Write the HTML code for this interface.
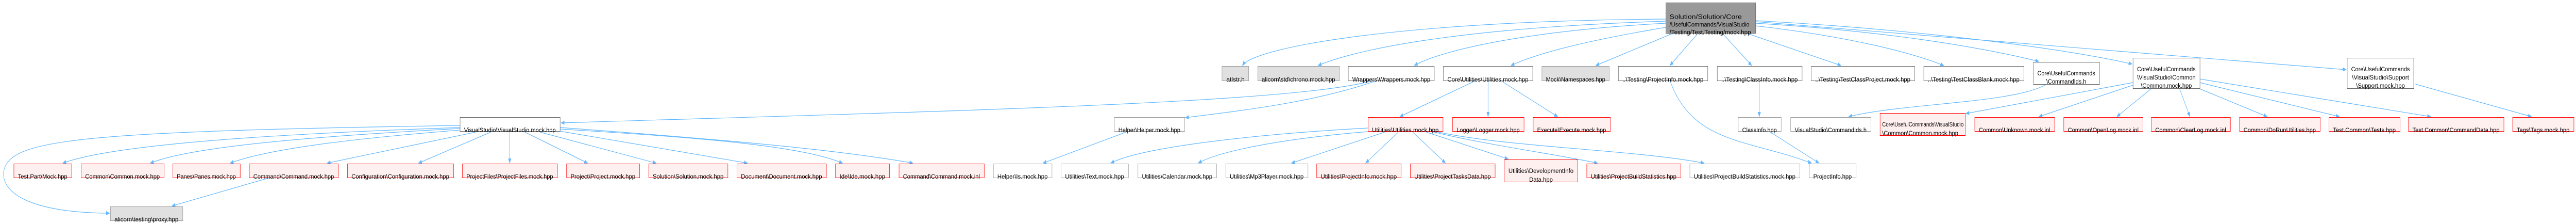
<!DOCTYPE html>
<html><head><meta charset="utf-8"><style>
html,body{margin:0;padding:0;background:#fff;width:100%;height:100%;overflow:hidden;}
svg{display:block;width:100vw;height:100vh;}
text{font-family:"Liberation Sans","DejaVu Sans",sans-serif;font-size:12px;fill:#000;}
.e{fill:none;stroke:#63B8FF;stroke-width:1.2;marker-end:url(#a);}
.w{fill:#fff;stroke:#666;}
.wg{fill:#fff;stroke:#999;}
.g{fill:#e0e0e0;stroke:#999;}
.r{fill:#fff0f0;stroke:#f00;}
.m{fill:#999;stroke:#666;}
</style></head><body>
<svg viewBox="0 0 6772 432" preserveAspectRatio="none" xmlns="http://www.w3.org/2000/svg" overflow="hidden">
<defs><marker id="a" markerWidth="10" markerHeight="8" refX="9" refY="4" orient="auto" markerUnits="userSpaceOnUse"><path d="M0,0 L10,4 L0,8 z" fill="#63B8FF"/></marker></defs>

<path class="e" d="M4379,37 C3700,40 3300,90 3266,127"/>
<path class="e" d="M4379,41 C3800,55 3550,100 3465,127"/>
<path class="e" d="M4379,45 C4000,60 3780,100 3718,127"/>
<path class="e" d="M4379,53 C4200,75 4050,100 3972,127"/>
<path class="e" d="M4400,64 L4195,127"/>
<path class="e" d="M4462,66 L4390,127"/>
<path class="e" d="M4530,66 L4605,127"/>
<path class="e" d="M4590,64 L4840,127"/>
<path class="e" d="M4615,50 C4850,70 5020,100 5110,127"/>
<path class="e" d="M4615,45 C4950,60 5200,90 5360,119"/>
<path class="e" d="M4615,40 C5000,55 5400,90 5605,124"/>
<path class="e" d="M4615,42 L6168,135"/>

<path class="e" d="M3610,156 C3400,200 2500,215 1475,238"/>
<path class="e" d="M3620,156 C3450,200 3250,215 3116,228"/>
<path class="e" d="M2960,256 L2742,316"/>

<path class="e" d="M3880,156 L3680,226"/>
<path class="e" d="M3912,156 L3912,226"/>
<path class="e" d="M3945,156 L4095,226"/>

<path class="e" d="M3596,248 C3300,260 3000,285 2920,316"/>
<path class="e" d="M3596,255 C3350,270 3200,295 3150,316"/>
<path class="e" d="M3640,256 L3395,316"/>
<path class="e" d="M3676,256 L3590,316"/>
<path class="e" d="M3714,256 L3800,316"/>
<path class="e" d="M3750,256 L3965,308"/>
<path class="e" d="M3760,254 C3900,280 4100,300 4200,316"/>
<path class="e" d="M3770,254 C3950,285 4300,290 4480,316"/>

<path class="e" d="M4390,156 C4450,280 4600,270 4762,316"/>
<path class="e" d="M4625,156 L4625,226"/>
<path class="e" d="M4650,254 L4782,316"/>

<path class="e" d="M5380,163 C5300,200 5000,200 4860,226"/>

<path class="e" d="M5607,160 L5168,220"/>
<path class="e" d="M5607,165 L5360,226"/>
<path class="e" d="M5655,172 L5565,226"/>
<path class="e" d="M5730,172 L5757,226"/>
<path class="e" d="M5783,172 L5960,226"/>
<path class="e" d="M5783,160 L6150,226"/>
<path class="e" d="M5783,153 L6390,226"/>
<path class="e" d="M6350,163 L6655,226"/>

<path class="e" d="M1209,247 C700,260 300,280 165,316"/>
<path class="e" d="M1209,249 C800,265 500,285 395,316"/>
<path class="e" d="M1209,252 C900,270 700,290 605,316"/>
<path class="e" d="M1250,256 L860,316"/>
<path class="e" d="M1290,256 L1100,316"/>
<path class="e" d="M1340,256 L1340,316"/>
<path class="e" d="M1380,256 L1545,316"/>
<path class="e" d="M1420,256 L1725,316"/>
<path class="e" d="M1472,254 L1965,316"/>
<path class="e" d="M1472,250 C1800,265 2100,280 2215,316"/>
<path class="e" d="M1472,247 C1900,270 2200,290 2400,316"/>
<path class="e" d="M1209,243 C200,255 30,270 10,330 C0,380 100,412 288,413"/>
<path class="e" d="M710,344 L452,399"/>

<rect class="m" x="4379.5" y="5.5" width="236" height="59"/>
<text x="4389" y="36.7" textLength="190" lengthAdjust="spacingAndGlyphs">Solution/Solution/Core</text>
<text x="4389" y="51.7" textLength="210" lengthAdjust="spacingAndGlyphs">/UsefulCommands/VisualStudio</text>
<text x="4389" y="66.7" textLength="214" lengthAdjust="spacingAndGlyphs">/Testing/Test.Testing/mock.hpp</text>

<rect class="g" x="3212.5" y="128.5" width="70" height="28"/><text x="3224" y="158" textLength="48" lengthAdjust="spacingAndGlyphs">atlstr.h</text>
<rect class="g" x="3306.5" y="128.5" width="215" height="28"/><text x="3317" y="158" textLength="193" lengthAdjust="spacingAndGlyphs">alicorn\std\chrono.mock.hpp</text>
<rect class="w" x="3544.5" y="128.5" width="226" height="28"/><text x="3555" y="158" textLength="205" lengthAdjust="spacingAndGlyphs">Wrappers\Wrappers.mock.hpp</text>
<rect class="w" x="3794.5" y="128.5" width="235" height="28"/><text x="3805" y="158" textLength="213" lengthAdjust="spacingAndGlyphs">Core\Utilities\Utilities.mock.hpp</text>
<rect class="g" x="4053.5" y="128.5" width="177" height="28"/><text x="4064" y="158" textLength="156" lengthAdjust="spacingAndGlyphs">Mock\Namespaces.hpp</text>
<rect class="w" x="4254.5" y="128.5" width="235" height="28"/><text x="4265" y="158" textLength="213" lengthAdjust="spacingAndGlyphs">..\Testing\ProjectInfo.mock.hpp</text>
<rect class="w" x="4514.5" y="128.5" width="223" height="28"/><text x="4525" y="158" textLength="201" lengthAdjust="spacingAndGlyphs">..\Testing\ClassInfo.mock.hpp</text>
<rect class="w" x="4761.5" y="128.5" width="272" height="28"/><text x="4772" y="158" textLength="250" lengthAdjust="spacingAndGlyphs">..\Testing\TestClassProject.mock.hpp</text>
<rect class="w" x="5057.5" y="128.5" width="263" height="28"/><text x="5068" y="158" textLength="241" lengthAdjust="spacingAndGlyphs">..\Testing\TestClassBlank.mock.hpp</text>
<rect class="w" x="5345.5" y="120.5" width="174" height="43"/>
<text x="5432" y="146" text-anchor="middle" textLength="152" lengthAdjust="spacingAndGlyphs">Core\UsefulCommands</text>
<text x="5432" y="162" text-anchor="middle" textLength="105" lengthAdjust="spacingAndGlyphs">\CommandIds.h</text>
<rect class="w" x="5607.5" y="112.5" width="176" height="59"/>
<text x="5695" y="138" text-anchor="middle" textLength="154" lengthAdjust="spacingAndGlyphs">Core\UsefulCommands</text>
<text x="5695" y="154" text-anchor="middle" textLength="154" lengthAdjust="spacingAndGlyphs">\VisualStudio\Common</text>
<text x="5695" y="170" text-anchor="middle" textLength="134" lengthAdjust="spacingAndGlyphs">\Common.mock.hpp</text>
<rect class="w" x="6170.5" y="112.5" width="175" height="59"/>
<text x="6258" y="138" text-anchor="middle" textLength="154" lengthAdjust="spacingAndGlyphs">Core\UsefulCommands</text>
<text x="6258" y="154" text-anchor="middle" textLength="150" lengthAdjust="spacingAndGlyphs">\VisualStudio\Support</text>
<text x="6258" y="170" text-anchor="middle" textLength="128" lengthAdjust="spacingAndGlyphs">\Support.mock.hpp</text>

<rect class="w" x="1209.5" y="227.5" width="263" height="27"/><text x="1220" y="256" textLength="241" lengthAdjust="spacingAndGlyphs">VisualStudio\VisualStudio.mock.hpp</text>
<rect class="wg" x="2929.5" y="227.5" width="185" height="27"/><text x="2940" y="256" textLength="163" lengthAdjust="spacingAndGlyphs">Helper\Helper.mock.hpp</text>
<rect class="r" x="3596.5" y="227.5" width="197" height="27"/><text x="3607" y="256" textLength="175" lengthAdjust="spacingAndGlyphs">Utilities\Utilities.mock.hpp</text>
<rect class="r" x="3818.5" y="227.5" width="188" height="27"/><text x="3829" y="256" textLength="166" lengthAdjust="spacingAndGlyphs">Logger\Logger.mock.hpp</text>
<rect class="r" x="4030.5" y="227.5" width="203" height="27"/><text x="4041" y="256" textLength="181" lengthAdjust="spacingAndGlyphs">Execute\Execute.mock.hpp</text>
<rect class="wg" x="4569.5" y="227.5" width="113" height="27"/><text x="4580" y="256" textLength="91" lengthAdjust="spacingAndGlyphs">ClassInfo.hpp</text>
<rect class="wg" x="4707.5" y="227.5" width="211" height="27"/><text x="4718" y="256" textLength="189" lengthAdjust="spacingAndGlyphs">VisualStudio\CommandIds.h</text>
<rect class="r" x="4942.5" y="219.5" width="224" height="43"/>
<text x="4948" y="245" textLength="214" lengthAdjust="spacingAndGlyphs">Core\UsefulCommands\VisualStudio</text>
<text x="4948" y="262" textLength="200" lengthAdjust="spacingAndGlyphs">\Common\Common.mock.hpp</text>
<rect class="r" x="5191.5" y="227.5" width="210" height="27"/><text x="5202" y="256" textLength="188" lengthAdjust="spacingAndGlyphs">Common\Unknown.mock.inl</text>
<rect class="r" x="5425.5" y="227.5" width="208" height="27"/><text x="5436" y="256" textLength="186" lengthAdjust="spacingAndGlyphs">Common\OpenLog.mock.inl</text>
<rect class="r" x="5655.5" y="227.5" width="208" height="27"/><text x="5666" y="256" textLength="186" lengthAdjust="spacingAndGlyphs">Common\ClearLog.mock.inl</text>
<rect class="r" x="5887.5" y="227.5" width="212" height="27"/><text x="5898" y="256" textLength="190" lengthAdjust="spacingAndGlyphs">Common\DoRunUtilities.hpp</text>
<rect class="r" x="6122.5" y="227.5" width="187" height="27"/><text x="6133" y="256" textLength="165" lengthAdjust="spacingAndGlyphs">Test.Common\Tests.hpp</text>
<rect class="r" x="6331.5" y="227.5" width="251" height="27"/><text x="6342" y="256" textLength="229" lengthAdjust="spacingAndGlyphs">Test.Common\CommandData.hpp</text>
<rect class="r" x="6605.5" y="227.5" width="161" height="27"/><text x="6616" y="256" textLength="139" lengthAdjust="spacingAndGlyphs">Tags\Tags.mock.hpp</text>

<rect class="r" x="36.5" y="317.5" width="152" height="27"/><text x="47" y="346" textLength="130" lengthAdjust="spacingAndGlyphs">Test.Part\Mock.hpp</text>
<rect class="r" x="213.5" y="317.5" width="218" height="27"/><text x="224" y="346" textLength="196" lengthAdjust="spacingAndGlyphs">Common\Common.mock.hpp</text>
<rect class="r" x="454.5" y="317.5" width="177" height="27"/><text x="465" y="346" textLength="155" lengthAdjust="spacingAndGlyphs">Panes\Panes.mock.hpp</text>
<rect class="r" x="655.5" y="317.5" width="234" height="27"/><text x="666" y="346" textLength="212" lengthAdjust="spacingAndGlyphs">Command\Command.mock.hpp</text>
<rect class="r" x="913.5" y="317.5" width="279" height="27"/><text x="924" y="346" textLength="257" lengthAdjust="spacingAndGlyphs">Configuration\Configuration.mock.hpp</text>
<rect class="r" x="1215.5" y="317.5" width="250" height="27"/><text x="1226" y="346" textLength="228" lengthAdjust="spacingAndGlyphs">ProjectFiles\ProjectFiles.mock.hpp</text>
<rect class="r" x="1489.5" y="317.5" width="192" height="27"/><text x="1500" y="346" textLength="170" lengthAdjust="spacingAndGlyphs">Project\Project.mock.hpp</text>
<rect class="r" x="1705.5" y="317.5" width="208" height="27"/><text x="1716" y="346" textLength="186" lengthAdjust="spacingAndGlyphs">Solution\Solution.mock.hpp</text>
<rect class="r" x="1937.5" y="317.5" width="235" height="27"/><text x="1948" y="346" textLength="213" lengthAdjust="spacingAndGlyphs">Document\Document.mock.hpp</text>
<rect class="r" x="2196.5" y="317.5" width="142" height="27"/><text x="2207" y="346" textLength="120" lengthAdjust="spacingAndGlyphs">Ide\Ide.mock.hpp</text>
<rect class="r" x="2363.5" y="317.5" width="224" height="27"/><text x="2374" y="346" textLength="202" lengthAdjust="spacingAndGlyphs">Command\Command.mock.inl</text>
<rect class="wg" x="2611.5" y="317.5" width="154" height="27"/><text x="2622" y="346" textLength="132" lengthAdjust="spacingAndGlyphs">Helper\Is.mock.hpp</text>
<rect class="wg" x="2789.5" y="317.5" width="177" height="27"/><text x="2800" y="346" textLength="155" lengthAdjust="spacingAndGlyphs">Utilities\Text.mock.hpp</text>
<rect class="wg" x="2991.5" y="317.5" width="207" height="27"/><text x="3002" y="346" textLength="185" lengthAdjust="spacingAndGlyphs">Utilities\Calendar.mock.hpp</text>
<rect class="wg" x="3222.5" y="317.5" width="216" height="27"/><text x="3233" y="346" textLength="194" lengthAdjust="spacingAndGlyphs">Utilities\Mp3Player.mock.hpp</text>
<rect class="r" x="3461.5" y="317.5" width="222" height="27"/><text x="3472" y="346" textLength="200" lengthAdjust="spacingAndGlyphs">Utilities\ProjectInfo.mock.hpp</text>
<rect class="r" x="3707.5" y="317.5" width="223" height="27"/><text x="3718" y="346" textLength="201" lengthAdjust="spacingAndGlyphs">Utilities\ProjectTasksData.hpp</text>
<rect class="r" x="3954.5" y="309.5" width="193" height="43"/>
<text x="4051" y="335" text-anchor="middle" textLength="171" lengthAdjust="spacingAndGlyphs">Utilities\DevelopmentInfo</text>
<text x="4051" y="352" text-anchor="middle" textLength="62" lengthAdjust="spacingAndGlyphs">Data.hpp</text>
<rect class="r" x="4171.5" y="317.5" width="247" height="27"/><text x="4182" y="346" textLength="225" lengthAdjust="spacingAndGlyphs">Utilities\ProjectBuildStatistics.hpp</text>
<rect class="wg" x="4442.5" y="317.5" width="289" height="27"/><text x="4453" y="346" textLength="267" lengthAdjust="spacingAndGlyphs">Utilities\ProjectBuildStatistics.mock.hpp</text>
<rect class="wg" x="4756.5" y="317.5" width="123" height="27"/><text x="4767" y="346" textLength="101" lengthAdjust="spacingAndGlyphs">ProjectInfo.hpp</text>

<rect class="g" x="290.5" y="400.5" width="190" height="27"/><text x="301" y="429" textLength="168" lengthAdjust="spacingAndGlyphs">alicorn\testing\proxy.hpp</text>
</svg>
</body></html>
